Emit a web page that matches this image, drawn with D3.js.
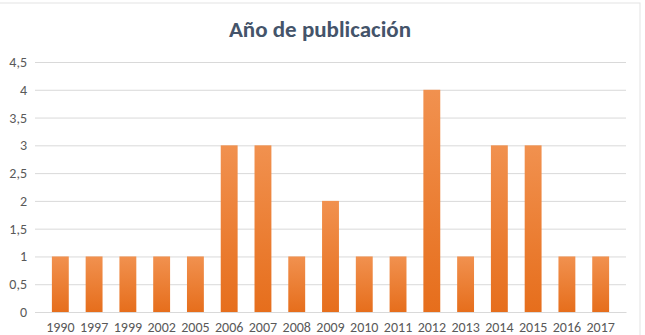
<!DOCTYPE html>
<html>
<head>
<meta charset="utf-8">
<script src="https://cdn.jsdelivr.net/npm/d3@7"></script>
<style>
  body { margin: 0; background: #fff; }
  text { font-family: Carlito, "Open Sans", "Liberation Sans", sans-serif; }
</style>
</head>
<body>
<script>
// data
var years = ["1990","1997","1999","2002","2005","2006","2007","2008","2009",
             "2010","2011","2012","2013","2014","2015","2016","2017"];
var counts = [1,1,1,1,1,3,3,1,2,1,1,4,1,3,3,1,1];
var yTicks = [0,0.5,1,1.5,2,2.5,3,3.5,4,4.5];

var W = 645, H = 335;
var margin = {top: 62, right: 19, bottom: 23, left: 35},
    width = W - margin.left - margin.right,
    height = H - margin.top - margin.bottom;

var svg = d3.select("body").append("svg")
    .attr("width", W)
    .attr("height", H);

// gradient for the bars
var grad = svg.append("defs").append("linearGradient")
    .attr("id", "barGrad")
    .attr("x1", 0).attr("y1", 0).attr("x2", 0).attr("y2", 1);
grad.append("stop").attr("offset", "0%").attr("stop-color", "#F1914F");
grad.append("stop").attr("offset", "100%").attr("stop-color", "#E66E1C");

// chart border
svg.append("rect")
    .attr("x", -1).attr("y", 3)
    .attr("width", 641).attr("height", H + 5)
    .attr("fill", "none")
    .attr("stroke", "#E3E3E3");

svg.append("text")
    .attr("x", 320)
    .attr("y", 37)
    .attr("text-anchor", "middle")
    .attr("font-size", "23px")
    .attr("font-weight", "bold")
    .attr("fill", "#44546A")
    .text("Año de publicación");

var g = svg.append("g")
    .attr("transform", "translate(" + margin.left + "," + margin.top + ")");

var x = d3.scaleBand().domain(years).range([0, width]).padding(0.5);
var y = d3.scaleLinear().domain([0, 4.5]).range([height, 0]);

// gridlines
var yAxis = d3.axisLeft(y)
    .tickValues(yTicks)
    .tickSize(-width)
    .tickPadding(8)
    .tickFormat(function(d) { return String(d).replace(".", ","); });

var ya = g.append("g").call(yAxis);
ya.select(".domain").remove();
ya.selectAll("line").attr("stroke", "#D9D9D9");
ya.selectAll("text").attr("fill", "#595959").attr("font-size", "14px");

// bars
g.selectAll("rect.bar")
    .data(counts)
  .enter().append("rect")
    .attr("class", "bar")
    .attr("x", function(d, i) { return x(years[i]); })
    .attr("y", function(d) { return y(d); })
    .attr("width", x.bandwidth())
    .attr("height", function(d) { return height - y(d); })
    .attr("fill", "url(#barGrad)");

var xa = g.append("g")
    .attr("transform", "translate(0," + height + ")")
    .call(d3.axisBottom(x).tickSize(0).tickPadding(10));
xa.select(".domain").attr("stroke", "#D9D9D9");
xa.selectAll("text").attr("fill", "#595959").attr("font-size", "14px");
</script>
</body>
</html>
